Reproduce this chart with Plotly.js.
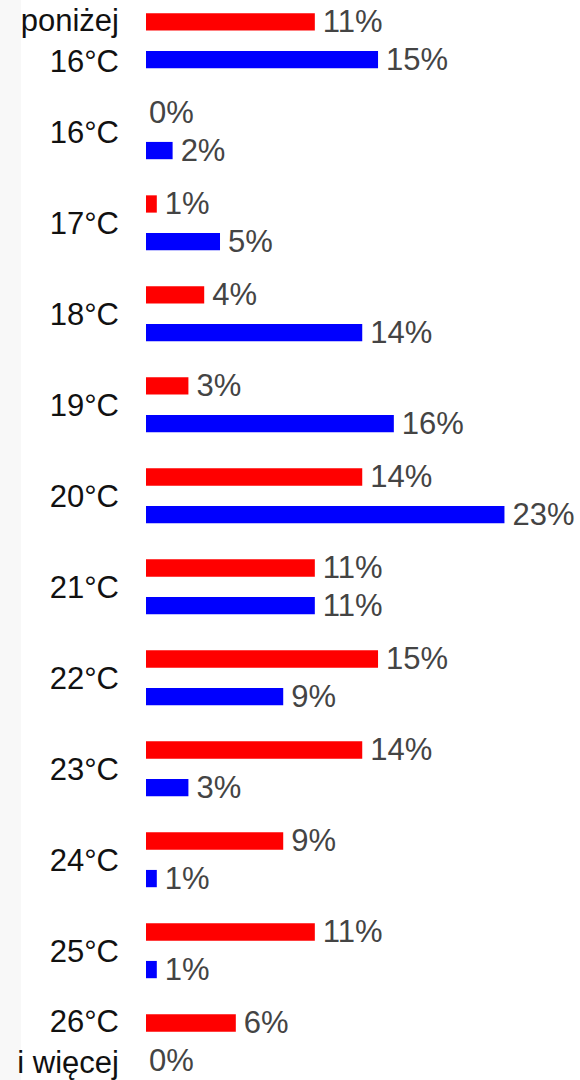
<!DOCTYPE html>
<html>
<head>
<meta charset="utf-8">
<script src="https://cdn.plot.ly/plotly-3.0.1.min.js"></script>
<style>
html,body{margin:0;padding:0;background:#fff;}
#chart{width:580px;height:1080px;}
</style>
</head>
<body>
<div id="chart"></div>
<script>
// Categories (top to bottom)
var categories = [
  "poniżej<br>16°C", "16°C", "17°C", "18°C", "19°C", "20°C",
  "21°C", "22°C", "23°C", "24°C", "25°C", "26°C<br>i więcej"
];
// Series values (%)
var redValues  = [11, 0, 1, 4, 3, 14, 11, 15, 14, 9, 11, 6];
var blueValues = [15, 2, 5, 14, 16, 23, 11, 9, 3, 1, 1, 0];

var labelFont = "Liberation Sans, Arial, Helvetica, sans-serif";
var pad = '<span style="font-size:18px">\u00a0</span>';

var common = {
  type: 'bar',
  orientation: 'h',
  y: categories,
  textposition: 'outside',
  cliponaxis: false,
  constraintext: 'none',
  textfont: {family: labelFont, size: 31, color: '#444444'},
  hoverinfo: 'none'
};

var traces = [
  Object.assign({}, common, {
    x: redValues,
    texttemplate: pad + '%{x}%',
    marker: {color: '#ff0000'},
    name: 'red'
  }),
  Object.assign({}, common, {
    x: blueValues,
    texttemplate: pad + '%{x}%',
    marker: {color: '#0000ff'},
    name: 'blue'
  })
];

var layout = {
  width: 580,
  height: 1080,
  margin: {l: 141, r: 0, t: 0, b: 0, pad: 0},
  paper_bgcolor: '#ffffff',
  plot_bgcolor: '#ffffff',
  showlegend: false,
  barmode: 'group',
  bargap: 0.174,
  bargroupgap: 0.54,
  xaxis: {
    range: [0, 27.78],
    visible: false,
    showgrid: false,
    zeroline: false,
    fixedrange: true
  },
  yaxis: {
    type: 'category',
    range: [11.42, -0.448],
    showgrid: false,
    zeroline: false,
    showline: false,
    ticks: '',
    ticklabelstandoff: 21,
    tickfont: {family: labelFont, size: 31, color: '#111111'},
    fixedrange: true
  },
  shapes: [{
    type: 'rect', xref: 'paper', yref: 'paper',
    x0: -141/439, x1: (21-141)/439, y0: 0, y1: 1,
    fillcolor: '#f8f8f8', line: {width: 0}, layer: 'below'
  }, {
    type: 'rect', xref: 'paper', yref: 'paper',
    x0: 0, x1: 5/439, y0: 0, y1: 1,
    fillcolor: '#ffffff', line: {width: 0}, layer: 'above'
  }]
};

Plotly.newPlot('chart', traces, layout, {displayModeBar: false, staticPlot: true});
</script>
</body>
</html>
